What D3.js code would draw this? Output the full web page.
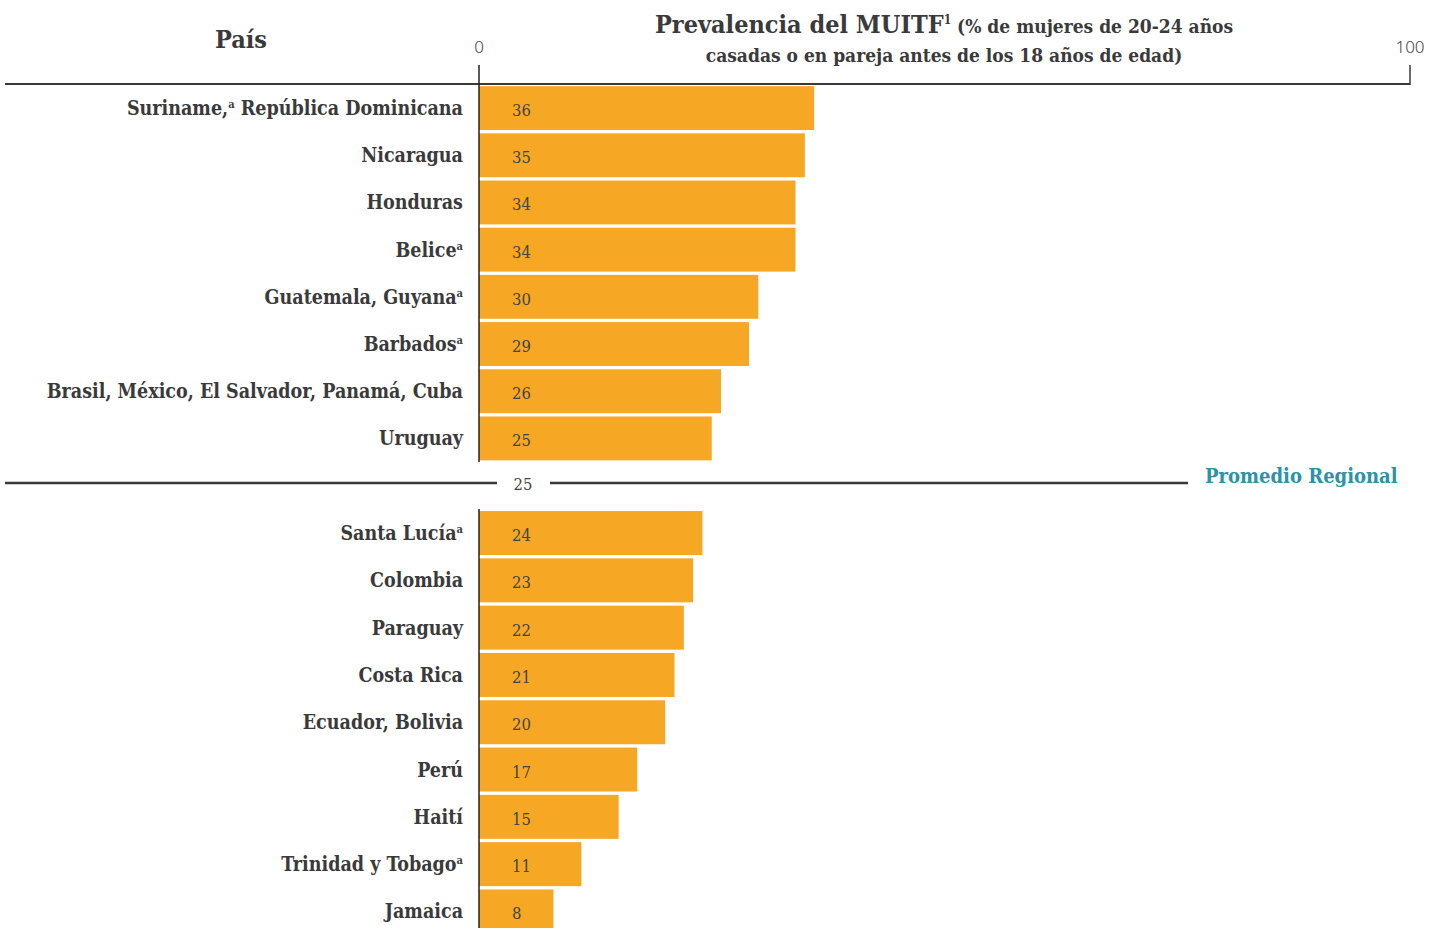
<!DOCTYPE html>
<html>
<head>
<meta charset="utf-8">
<script src="https://d3js.org/d3.v7.min.js"></script>
<style>
  body { margin: 0; background: #fff; }
  svg text { font-family: "DejaVu Serif Condensed", "DejaVu Serif", serif; }
  .lbl { font-weight: bold; font-size: 19.5px; fill: #3a3a3a; }
  .val { font-size: 16.5px; fill: #444; }
  .tick { font-size: 16.5px; fill: #444; }
  .axistick { font-family: "Noto Sans", sans-serif; font-weight: 300; font-size: 17px; fill: #444; }
</style>
</head>
<body>
<script>
// countries above the regional average
var topNames = ["Suriname,ª República Dominicana", "Nicaragua", "Honduras", "Beliceª",
  "Guatemala, Guyanaª", "Barbadosª", "Brasil, México, El Salvador, Panamá, Cuba", "Uruguay"];
var topValues = [36, 35, 34, 34, 30, 29, 26, 25];

// countries below the regional average
var bottomNames = ["Santa Lucíaª", "Colombia", "Paraguay", "Costa Rica", "Ecuador, Bolivia",
  "Perú", "Haití", "Trinidad y Tobagoª", "Jamaica"];
var bottomValues = [24, 23, 22, 21, 20, 17, 15, 11, 8];

var regionalAverage = 25;
var axisTicks = [0, 100];

var width = 1442, height = 928;
var barColor = "#f6a724", ink = "#3a3a3a", teal = "#2b93a5";

var svg = d3.select("body").append("svg")
  .attr("width", width)
  .attr("height", height);

var x = d3.scaleLinear().domain([0, 100]).range([479, 1410]);

var yTop = d3.scaleBand().domain(d3.range(topValues.length))
  .range([84.5, 462]).paddingInner(0.07).paddingOuter(0.035);
var yBottom = d3.scaleBand().domain(d3.range(bottomValues.length))
  .range([509.4, 509.4 + 9 * 47.3]).paddingInner(0.07).paddingOuter(0.035);

// label with superscript "a" footnote marks
function writeLabel(sel, name) {
  var parts = name.split("ª");
  var shift = 0;
  parts.forEach(function(p, i) {
    if (p.length) {
      sel.append("tspan").attr("dy", shift).text(p);
      shift = 0;
    }
    if (i < parts.length - 1) {
      sel.append("tspan").attr("font-size", "11px").attr("dy", -7 + shift).text("a");
      shift = 7;
    }
  });
}

function drawGroup(names, values, y) {
  var g = svg.append("g");
  g.selectAll("rect").data(values).enter().append("rect")
    .attr("x", x(0))
    .attr("y", function(d, i) { return y(i); })
    .attr("width", function(d) { return x(d) - x(0); })
    .attr("height", y.bandwidth())
    .attr("fill", barColor);

  g.selectAll("text.val").data(values).enter().append("text")
    .attr("class", "val")
    .attr("x", x(0) + 33)
    .attr("y", function(d, i) { return y(i) + y.bandwidth() / 2 + 8; })
    .text(function(d) { return d; });

  g.selectAll("text.lbl").data(names).enter().append("text")
    .attr("class", "lbl")
    .attr("text-anchor", "end")
    .attr("x", 463)
    .attr("y", function(d, i) { return y(i) + y.bandwidth() / 2 + 7; })
    .each(function(d) { writeLabel(d3.select(this), d); });
}

drawGroup(topNames, topValues, yTop);
drawGroup(bottomNames, bottomValues, yBottom);

// axis lines
svg.append("line").attr("x1", 5).attr("x2", x(100)).attr("y1", 84).attr("y2", 84)
  .attr("stroke", ink).attr("stroke-width", 2);
svg.append("line").attr("x1", x(100)).attr("x2", x(100)).attr("y1", 65).attr("y2", 85)
  .attr("stroke", ink).attr("stroke-width", 1.5);
svg.append("line").attr("x1", x(0)).attr("x2", x(0)).attr("y1", 65).attr("y2", 462)
  .attr("stroke", "#222").attr("stroke-width", 1.5);
svg.append("line").attr("x1", x(0)).attr("x2", x(0)).attr("y1", 509).attr("y2", height)
  .attr("stroke", "#222").attr("stroke-width", 1.5);

svg.selectAll("text.axistick").data(axisTicks).enter().append("text")
  .attr("class", "axistick")
  .attr("text-anchor", "middle")
  .attr("x", function(d) { return x(d); })
  .attr("y", 53)
  .text(function(d) { return d; });

// regional average divider
var avgY = 483;
svg.append("line").attr("x1", 5).attr("x2", 497).attr("y1", avgY).attr("y2", avgY)
  .attr("stroke", ink).attr("stroke-width", 2.5);
svg.append("line").attr("x1", 550).attr("x2", 1188).attr("y1", avgY).attr("y2", avgY)
  .attr("stroke", ink).attr("stroke-width", 2.5);
svg.append("text").attr("class", "tick").attr("text-anchor", "middle")
  .attr("x", 523).attr("y", avgY + 7).text(regionalAverage);
svg.append("text").attr("x", 1205).attr("y", avgY)
  .attr("font-weight", "bold").attr("font-size", "20px").attr("fill", teal)
  .text("Promedio Regional");

// headers
svg.append("text").attr("text-anchor", "middle").attr("x", 241).attr("y", 48)
  .attr("font-weight", "bold").attr("font-size", "25px").attr("fill", ink)
  .text("País");

var title = svg.append("text").attr("text-anchor", "middle").attr("x", 944).attr("y", 33)
  .attr("font-weight", "bold").attr("fill", ink);
title.append("tspan").attr("font-size", "25px").text("Prevalencia del MUITF");
title.append("tspan").attr("font-size", "12px").attr("dy", -9).text("1");
title.append("tspan").attr("font-size", "19px").attr("dy", 9).text(" (% de mujeres de 20-24 años");
svg.append("text").attr("text-anchor", "middle").attr("x", 944).attr("y", 62)
  .attr("font-weight", "bold").attr("font-size", "19px").attr("fill", ink)
  .text("casadas o en pareja antes de los 18 años de edad)");
</script>
</body>
</html>
